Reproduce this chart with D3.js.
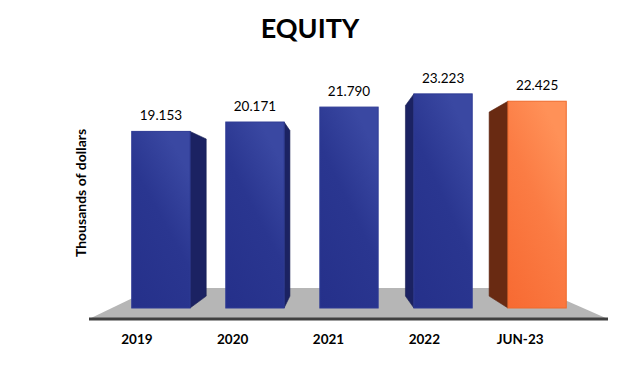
<!DOCTYPE html>
<html>
<head>
<meta charset="utf-8">
<script src="https://cdn.jsdelivr.net/npm/d3@7"></script>
<style>
  html, body { margin: 0; padding: 0; background: #ffffff; }
  svg { display: block; }
</style>
</head>
<body>
<svg id="chart" width="623" height="367"></svg>
<script>
const categories = ["2019", "2020", "2021", "2022", "JUN-23"];
const values = [19.153, 20.171, 21.790, 23.223, 22.425];
const highlighted = [false, false, false, false, true];
const valueLabels = ["19.153", "20.171", "21.790", "23.223", "22.425"];
const title = "EQUITY";
const yTitle = "Thousands of dollars";

const svg = d3.select("#chart");
const W = 623, H = 367;

const x = d3.scaleBand().domain(categories).range([96, 602]).paddingInner(0.38).paddingOuter(0.38);
const y = d3.scaleLinear().domain([0, 25]).range([308, 77.5]);
const xl = d3.scaleBand().domain(categories).range([89, 568]);

const vp = { x: 337, y: 200 };
const barDepth = 0.11;
const floorDepth = 0.26;
const proj = (px, py, d) => [px + (vp.x - px) * d, py + (vp.y - py) * d];

// gradients
const defs = svg.append("defs");
function grad(id, stops, x2, y2) {
  const g = defs.append("linearGradient").attr("id", id)
    .attr("x1", "0").attr("y1", "1").attr("x2", x2).attr("y2", y2);
  stops.forEach(s => g.append("stop").attr("offset", s[0]).attr("stop-color", s[1]));
}
grad("blueFront", [[0, "#25308a"], [0.6, "#2a3690"], [1, "#3a48a2"]], "0.6", "0");
grad("orangeFront", [[0, "#f76a32"], [0.6, "#fb7c44"], [1, "#ff9158"]], "0.6", "0");

// title
svg.append("text").attr("x", 310).attr("y", 38)
  .attr("text-anchor", "middle")
  .style("font-family", "Lato, 'Open Sans', sans-serif")
  .style("font-weight", "bold").style("font-size", "27px").attr("fill", "#000")
  .text(title);

// floor
const y0 = y(0);
const fy = y0 + 11;
const fl = xl.range()[0], fr = 608;
const floorPts = [[fl, fy], [fr, fy], proj(fr, fy, floorDepth), proj(fl, fy, floorDepth)];
svg.append("polygon").attr("points", floorPts.map(p => p.join(",")).join(" "))
  .attr("fill", "#b6b6b6");
svg.append("line").attr("x1", fl).attr("x2", fr).attr("y1", fy).attr("y2", fy)
  .attr("stroke", "#404040").attr("stroke-width", 3);

// bars
const bars = svg.append("g");
categories.forEach((c, i) => {
  const v = values[i];
  const x0 = x(c), x1 = x0 + x.bandwidth();
  const top = y(v);
  const hl = highlighted[i];
  const sideFill = hl ? "#692a12" : "#1b2262";
  const g = bars.append("g");
  let side = null;
  if (x1 < vp.x) {
    side = [[x1, top], proj(x1, top, barDepth), proj(x1, y0, barDepth), [x1, y0]];
  } else if (x0 > vp.x) {
    side = [[x0, top], proj(x0, top, barDepth), proj(x0, y0, barDepth), [x0, y0]];
  }
  if (side) {
    g.append("polygon").attr("points", side.map(p => p.join(",")).join(" "))
      .attr("fill", sideFill).attr("stroke", hl ? "#5a220e" : "#161c52").attr("stroke-width", 0.6);
  }
  g.append("rect").attr("x", x0).attr("y", top).attr("width", x.bandwidth()).attr("height", y0 - top)
    .attr("fill", hl ? "url(#orangeFront)" : "url(#blueFront)")
    .attr("stroke", hl ? "#ee6a2c" : "#2e3a94").attr("stroke-width", 1);
  g.append("text").attr("x", x0 + x.bandwidth() / 2).attr("y", top - 11)
    .attr("text-anchor", "middle")
    .style("font-family", "Lato, 'Open Sans', sans-serif")
    .style("font-size", "13.5px").attr("fill", "#000")
    .text(valueLabels[i]);
});

// category axis
const axis = svg.append("g").attr("transform", `translate(0, ${fy + 15})`)
  .call(d3.axisBottom(xl).tickSize(0).tickPadding(0));
axis.select(".domain").remove();
axis.selectAll("text")
  .style("font-family", "Lato, 'Open Sans', sans-serif")
  .style("font-weight", "bold").style("font-size", "13.5px").attr("fill", "#000");

// y title
svg.append("text")
  .attr("transform", "translate(86, 193) rotate(-90)")
  .attr("text-anchor", "middle")
  .style("font-family", "Lato, 'Open Sans', sans-serif")
  .style("font-weight", "bold").style("font-size", "14px").attr("fill", "#000")
  .text(yTitle);
</script>
</body>
</html>
